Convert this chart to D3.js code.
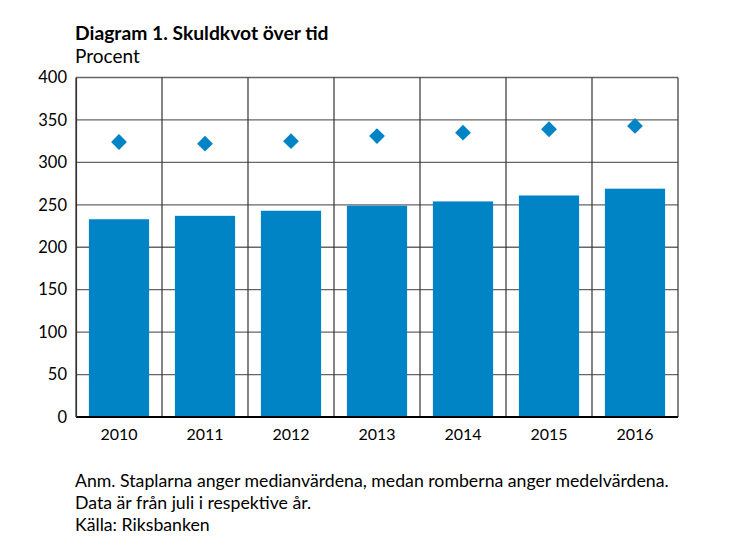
<!DOCTYPE html>
<html>
<head>
<meta charset="utf-8">
<script src="https://cdn.jsdelivr.net/npm/d3@7"></script>
<style>
  body { margin: 0; background: #fff; }
  text { font-family: Lato, "Open Sans", sans-serif; fill: #000; }
</style>
</head>
<body>
<svg id="chart"></svg>
<script>
// data
const years = ["2010", "2011", "2012", "2013", "2014", "2015", "2016"];
const medianValues = [233, 237, 243, 249, 254, 261, 269];
const meanValues = [324, 322, 325, 331, 335, 339, 343];
const yTicks = [0, 50, 100, 150, 200, 250, 300, 350, 400];
const notes = [
  "Anm. Staplarna anger medianvärdena, medan romberna anger medelvärdena.",
  "Data är från juli i respektive år.",
  "Källa: Riksbanken"
];

const width = 746, height = 558;
const margin = { top: 77.5, right: 68, bottom: 141, left: 76 };
const blue = "#0084c6";

const svg = d3.select("#chart")
  .attr("width", width)
  .attr("height", height);

const x = d3.scaleBand()
  .domain(years)
  .range([margin.left, width - margin.right])
  .paddingInner(0.3)
  .paddingOuter(0.15);

const y = d3.scaleLinear()
  .domain([0, 400])
  .range([height - margin.bottom, margin.top]);

// horizontal grid
svg.append("g")
  .selectAll("line")
  .data(yTicks)
  .join("line")
  .attr("x1", margin.left)
  .attr("x2", width - margin.right)
  .attr("y1", d => y(d))
  .attr("y2", d => y(d))
  .attr("stroke", "#666")
  .attr("stroke-width", 1.3);

// vertical separators between years
const step = x.step();
svg.append("g")
  .selectAll("line")
  .data(d3.range(years.length + 1))
  .join("line")
  .attr("x1", i => margin.left + i * step)
  .attr("x2", i => margin.left + i * step)
  .attr("y1", y(400))
  .attr("y2", y(0))
  .attr("stroke", "#333")
  .attr("stroke-width", 1.2);

// bars (median)
svg.append("g")
  .selectAll("rect")
  .data(years)
  .join("rect")
  .attr("x", d => x(d))
  .attr("width", x.bandwidth())
  .attr("y", (d, i) => y(medianValues[i]))
  .attr("height", (d, i) => y(0) - y(medianValues[i]))
  .attr("fill", blue);

// diamonds (mean)
svg.append("g")
  .selectAll("path")
  .data(years)
  .join("path")
  .attr("d", d3.symbol(d3.symbolSquare, 125))
  .attr("transform", (d, i) => `translate(${x(d) + x.bandwidth() / 2},${y(meanValues[i])}) rotate(45)`)
  .attr("fill", blue);

// x axis baseline
svg.append("line")
  .attr("x1", margin.left)
  .attr("x2", width - margin.right)
  .attr("y1", y(0))
  .attr("y2", y(0))
  .attr("stroke", "#000")
  .attr("stroke-width", 2);

// y axis
const yAxis = svg.append("g")
  .attr("transform", `translate(${margin.left},0)`)
  .call(d3.axisLeft(y).tickValues(yTicks).tickSize(0).tickPadding(9));
yAxis.select(".domain").attr("stroke", "#333").attr("stroke-width", 1.2);
yAxis.selectAll("text").style("font-size", "16.5px").style("font-family", "Lato, sans-serif");

// x axis labels
const xAxis = svg.append("g")
  .attr("transform", `translate(0,${y(0)})`)
  .call(d3.axisBottom(x).tickSize(0).tickPadding(12));
xAxis.select(".domain").remove();
xAxis.selectAll("text").style("font-size", "16px").style("font-family", "Lato, sans-serif");

// titles
svg.append("text")
  .attr("x", 75).attr("y", 40)
  .style("font-size", "19.3px").style("font-weight", "bold")
  .text("Diagram 1. Skuldkvot över tid");
svg.append("text")
  .attr("x", 75).attr("y", 63)
  .style("font-size", "19px")
  .text("Procent");

// notes
svg.append("g")
  .selectAll("text")
  .data(notes)
  .join("text")
  .attr("x", 75)
  .attr("y", (d, i) => 487 + i * 22)
  .style("font-size", "17.7px")
  .text(d => d);
</script>
</body>
</html>
